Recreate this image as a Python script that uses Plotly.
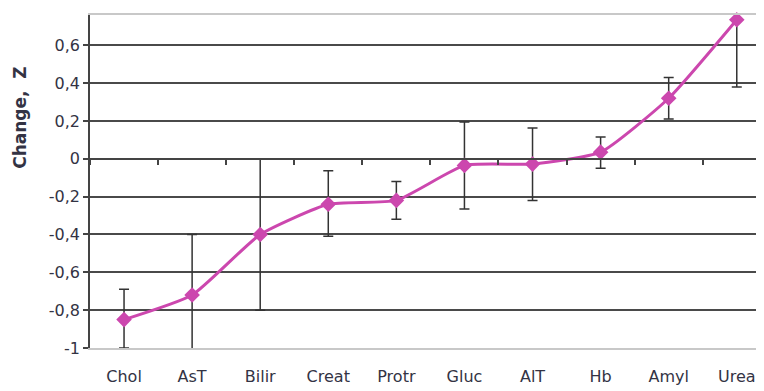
import plotly.graph_objects as go

categories = ["Chol", "AsT", "Bilir", "Creat", "Protr", "Gluc", "AlT", "Hb", "Amyl", "Urea"]
values = [-0.85, -0.72, -0.40, -0.24, -0.22, -0.035, -0.028, 0.035, 0.32, 0.735]
err_upper = [-0.69, -0.40, 0.00, -0.063, -0.12, 0.195, 0.163, 0.115, 0.43, 0.79]
err_lower = [-1.00, -1.02, -0.80, -0.41, -0.32, -0.265, -0.22, -0.05, 0.21, 0.38]
ytick_vals = [-1, -0.8, -0.6, -0.4, -0.2, 0, 0.2, 0.4, 0.6]
ytick_text = ["-1", "-0,8", "-0,6", "-0,4", "-0,2", "0", "0,2", "0,4", "0,6"]
y_title = "Change,\u00a0 Z"

plus = [u - v for u, v in zip(err_upper, values)]
minus = [v - l for v, l in zip(values, err_lower)]

y_min, y_max = -1.0, 0.76
line_color = "#CC47AE"
text_color = "#333344"
font_family = "DejaVu Sans, Verdana, sans-serif"

fig = go.Figure()
fig.add_trace(go.Scatter(
    x=categories, y=values,
    mode="lines+markers",
    line=dict(color=line_color, width=3, shape="spline", smoothing=0.5),
    marker=dict(symbol="diamond", size=12, color=line_color),
    error_y=dict(type="data", symmetric=False, array=plus, arrayminus=minus,
                 color="#333333", thickness=1.5, width=5),
    cliponaxis=False,
    showlegend=False,
))
# invisible trace to drive the category axis that crosses at y = 0
fig.add_trace(go.Scatter(x=categories, y=values, xaxis="x2", mode="markers",
                         marker=dict(opacity=0), hoverinfo="skip", showlegend=False))

zero_pos = (0 - y_min) / (y_max - y_min)

fig.update_layout(
    width=756, height=383,
    margin=dict(l=82, r=0, t=7, b=43, autoexpand=False),
    paper_bgcolor="white", plot_bgcolor="white",
    font=dict(family=font_family, color=text_color),
    xaxis=dict(
        type="category", range=[-0.5, 9.4],
        showgrid=False, zeroline=False,
        showline=True, linecolor="#c8c8c8", linewidth=1.5, mirror=True,
        ticks="", ticklabelstandoff=13,
        tickfont=dict(size=16, color=text_color),
    ),
    xaxis2=dict(
        type="category", range=[-0.5, 9.4], overlaying="x",
        anchor="free", position=zero_pos,
        showline=True, linecolor="#444444", linewidth=1.5,
        ticks="outside", tickson="boundaries", ticklen=5, tickwidth=1.5, tickcolor="#444444",
        showticklabels=False, showgrid=False, zeroline=False,
    ),
    yaxis=dict(
        range=[y_min, y_max],
        tickvals=ytick_vals, ticktext=ytick_text,
        showgrid=True, gridcolor="#4a4a4a", gridwidth=1.5,
        zeroline=False,
        showline=True, linecolor="#444444", linewidth=1.5,
        ticks="outside", ticklen=5, tickwidth=1.5, tickcolor="#444444",
        tickfont=dict(size=16, color=text_color),
    ),
    annotations=[dict(
        text="<b>" + y_title + "</b>", textangle=-90,
        xref="paper", yref="paper", x=-0.104, y=0.691,
        xanchor="center", yanchor="middle", showarrow=False,
        font=dict(size=17, color=text_color, family=font_family),
    )],
)

fig.write_html("out.html")
